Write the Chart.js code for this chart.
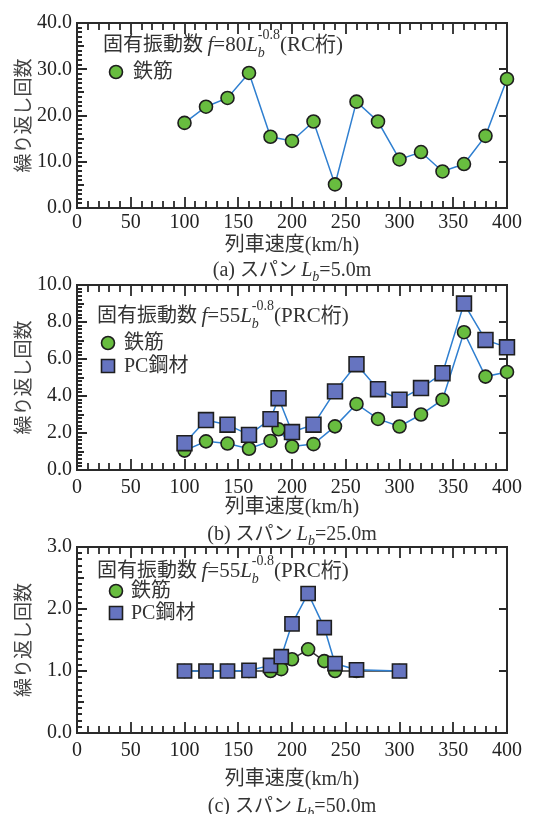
<!DOCTYPE html>
<html>
<head>
<meta charset="utf-8">
<script src="https://cdn.jsdelivr.net/npm/chart.js"></script>
<style>
  body { margin: 0; background: #fff; }
  #wrap { position: relative; width: 547px; height: 814px; }
  canvas { position: absolute; left: 0; top: 0; }
</style>
</head>
<body>
<div id="wrap">
  <canvas id="chartA" width="547" height="814"></canvas>
  <canvas id="chartB" width="547" height="814"></canvas>
  <canvas id="chartC" width="547" height="814"></canvas>
</div>
<script>
// (a) span 5.0m
const speedsA = [100, 120, 140, 160, 180, 200, 220, 240, 260, 280, 300, 320, 340, 360, 380, 400];
const rebarA = [18.4, 21.9, 23.8, 29.2, 15.4, 14.5, 18.7, 5.1, 23.0, 18.7, 10.5, 12.1, 7.9, 9.5, 15.6, 27.9];

// (b) span 25.0m
const speedsB = [100, 120, 140, 160, 180, 187.5, 200, 220, 240, 260, 280, 300, 320, 340, 360, 380, 400];
const rebarB = [1.05, 1.55, 1.43, 1.15, 1.57, 2.2, 1.27, 1.4, 2.36, 3.57, 2.76, 2.35, 3.0, 3.8, 7.45, 5.05, 5.3];
const pcB = [1.45, 2.7, 2.45, 1.9, 2.75, 3.88, 2.05, 2.45, 4.25, 5.72, 4.37, 3.8, 4.43, 5.23, 9.0, 7.03, 6.63];

// (c) span 50.0m
const speedsC = [100, 120, 140, 160, 180, 190, 200, 215, 230, 240, 260, 300];
const rebarC = [1.0, 1.0, 1.0, 1.0, 1.0, 1.03, 1.19, 1.35, 1.16, 1.0, 1.0, 1.0];
const pcC = [1.0, 1.0, 1.0, 1.01, 1.09, 1.23, 1.76, 2.25, 1.7, 1.12, 1.02, 1.0];

const xTicks = [0, 50, 100, 150, 200, 250, 300, 350, 400];
const labelRebar = "鉄筋";
const labelPC = "PC鋼材";
const xTitle = "列車速度(km/h)";
const yTitle = "繰り返し回数";

const SERIF = "'Liberation Serif', 'Noto Sans CJK JP', serif";
const CJK = "'Noto Sans CJK JP', sans-serif";
const LINE = "#2f7fd0";
const GREEN = "#68bd3f";
const BLUE = "#6674c0";
const EDGE = "#1e1e1e";

const panelOpts = {};

function toPts(xs, ys) {
  return xs.map((x, i) => ({ x: x, y: ys[i] }));
}

// draw a row of text pieces with different fonts
function drawRuns(ctx, x, y, runs, align) {
  let w = 0;
  runs.forEach(r => {
    ctx.font = r.font;
    r.w = ctx.measureText(r.t).width;
    if (!r.stay) w += r.w;
  });
  let cx = align === "center" ? x - w / 2 : x;
  runs.forEach(r => {
    ctx.font = r.font;
    ctx.fillText(r.t, cx, y + (r.dy || 0));
    if (!r.stay) cx += r.w;
  });
}

function formulaRuns(coef, kind) {
  return [
    { t: "固有振動数 ", font: "20px " + CJK },
    { t: "f", font: "italic 21px " + SERIF },
    { t: "=" + coef, font: "21px " + SERIF },
    { t: "L", font: "italic 21px " + SERIF },
    { t: "b", font: "italic 14px " + SERIF, dy: 6, stay: true },
    { t: "-0.8", font: "14px " + SERIF, dy: -12 },
    { t: "(" + kind + ")", font: "21px " + SERIF }
  ];
}

function captionRuns(tag, span) {
  return [
    { t: "(" + tag + ") ", font: "20px " + SERIF },
    { t: "スパン ", font: "19px " + CJK },
    { t: "L", font: "italic 20px " + SERIF },
    { t: "b", font: "italic 14px " + SERIF, dy: 5 },
    { t: "=" + span, font: "20px " + SERIF }
  ];
}

function drawMarker(ctx, style, x, y, size) {
  ctx.save();
  ctx.lineWidth = 1.6;
  ctx.strokeStyle = EDGE;
  ctx.beginPath();
  if (style === "circle") {
    ctx.fillStyle = GREEN;
    ctx.arc(x, y, size / 2, 0, Math.PI * 2);
  } else {
    ctx.fillStyle = BLUE;
    ctx.rect(x - size / 2, y - size / 2, size, size);
  }
  ctx.fill();
  ctx.stroke();
  ctx.restore();
}

// inward ticks on all four sides plus the frame
function drawFrame(chart) {
  const o = panelOpts[chart.canvas.id];
  const ctx = chart.ctx;
  const a = chart.chartArea;
  const x = chart.scales.x, y = chart.scales.y;
  ctx.save();
  ctx.strokeStyle = "#2a2a2a";
  ctx.lineWidth = 1.8;
  ctx.beginPath();
  for (let v = 0; v <= 400; v += 10) {
    const px = Math.round(x.getPixelForValue(v));
    const len = v % 50 === 0 ? 11 : 7;
    ctx.moveTo(px, a.bottom);
    ctx.lineTo(px, a.bottom - len);
    ctx.moveTo(px, a.top);
    ctx.lineTo(px, a.top + len);
  }
  const n = Math.round(o.yMax / o.yMinor);
  const nMaj = Math.round(o.yMajor / o.yMinor);
  const nMid = Math.round(o.yMid / o.yMinor);
  for (let i = 0; i <= n; i++) {
    const py = Math.round(y.getPixelForValue(i * o.yMinor));
    const len = i % nMaj === 0 ? 10 : (i % nMid === 0 ? 7 : 5);
    ctx.moveTo(a.left, py);
    ctx.lineTo(a.left + len, py);
    if (i % nMaj === 0) {
      ctx.moveTo(a.right, py);
      ctx.lineTo(a.right - 8, py);
    }
  }
  ctx.stroke();
  ctx.lineWidth = 2;
  ctx.strokeRect(a.left, a.top, a.right - a.left, a.bottom - a.top);
  ctx.restore();
}

const decoPlugin = {
  id: "deco",
  beforeDatasetsDraw(chart) {
    drawFrame(chart);
  },
  afterDraw(chart) {
    const o = panelOpts[chart.canvas.id];
    const { ctx, chartArea: a } = chart;
    ctx.save();
    ctx.fillStyle = "#333";
    ctx.textBaseline = "alphabetic";
    drawRuns(ctx, o.noteX, o.noteY, formulaRuns(o.coef, o.kind), "left");
    o.legend.forEach(item => {
      drawMarker(ctx, item.style, item.mx, item.my, item.size);
      ctx.fillStyle = "#333";
      ctx.textBaseline = "middle";
      ctx.font = "20px " + SERIF;
      ctx.fillText(item.text, item.tx, item.my + 1);
    });
    ctx.textBaseline = "alphabetic";
    drawRuns(ctx, (a.left + a.right) / 2, o.capY, captionRuns(o.tag, o.span), "center");
    ctx.restore();
  }
};

function makeChart(id, p) {
  panelOpts[id] = p;
  const datasets = p.series.map(s => ({
    label: s.label,
    data: s.data,
    showLine: true,
    borderColor: s.line,
    borderWidth: 1.5,
    pointStyle: s.style,
    pointRadius: s.radius,
    pointBackgroundColor: s.fill,
    pointBorderColor: EDGE,
    pointBorderWidth: 1.6,
    order: s.order,
    clip: false
  }));
  return new Chart(document.getElementById(id), {
    type: "scatter",
    data: { datasets: datasets },
    plugins: [decoPlugin],
    options: {
      responsive: false,
      animation: false,
      devicePixelRatio: 1,
      events: [],
      layout: {
        padding: { left: 0, right: 40, top: p.top, bottom: 814 - p.axisBottom }
      },
      scales: {
        x: {
          type: "linear",
          min: 0,
          max: 400,
          afterBuildTicks: s => { s.ticks = xTicks.map(v => ({ value: v })); },
          afterFit: s => { s.height = p.axisBottom - p.bottom; },
          grid: { display: false, drawTicks: false },
          border: { display: false },
          ticks: { padding: p.tickPad, color: "#222", font: { family: SERIF, size: 20 }, maxRotation: 0 },
          title: { display: true, text: xTitle, color: "#333", padding: { top: 0, bottom: 0 }, font: { family: SERIF, size: 20 } }
        },
        y: {
          type: "linear",
          min: 0,
          max: p.yMax,
          afterFit: s => { s.width = 77; },
          grid: { display: false, drawTicks: false },
          border: { display: false },
          ticks: { stepSize: p.yMajor, padding: 5, color: "#222", font: { family: SERIF, size: 20 }, callback: v => v.toFixed(1) },
          title: { display: true, text: yTitle, color: "#444", padding: { top: 11, bottom: 0 }, font: { family: CJK, size: 19 } }
        }
      },
      plugins: {
        legend: { display: false },
        tooltip: { enabled: false }
      }
    }
  });
}

makeChart("chartA", {
  top: 23, bottom: 208, axisBottom: 258, tickPad: 3,
  yMax: 40, yMajor: 10, yMid: 5, yMinor: 1,
  coef: "80", kind: "RC桁", noteX: 103, noteY: 51,
  tag: "a", span: "5.0m", capY: 276,
  legend: [{ style: "circle", mx: 116, my: 72, size: 13, text: labelRebar, tx: 133 }],
  series: [
    { label: labelRebar, data: toPts(speedsA, rebarA), line: LINE, style: "circle", radius: 6.5, fill: GREEN, order: 1 }
  ]
});

makeChart("chartB", {
  top: 285, bottom: 470, axisBottom: 520, tickPad: 6,
  yMax: 10, yMajor: 2, yMid: 1, yMinor: 0.2,
  coef: "55", kind: "PRC桁", noteX: 97, noteY: 322,
  tag: "b", span: "25.0m", capY: 540,
  legend: [
    { style: "circle", mx: 108, my: 343, size: 13, text: labelRebar, tx: 124 },
    { style: "rect", mx: 108, my: 366, size: 13, text: labelPC, tx: 124 }
  ],
  series: [
    { label: labelRebar, data: toPts(speedsB, rebarB), line: LINE, style: "circle", radius: 6.5, fill: GREEN, order: 1 },
    { label: labelPC, data: toPts(speedsB, pcB), line: LINE, style: "rect", radius: 10.5, fill: BLUE, order: 0 }
  ]
});

makeChart("chartC", {
  top: 547, bottom: 733, axisBottom: 792, tickPad: 6,
  yMax: 3, yMajor: 1, yMid: 0.5, yMinor: 0.1,
  coef: "55", kind: "PRC桁", noteX: 97, noteY: 577,
  tag: "c", span: "50.0m", capY: 812,
  legend: [
    { style: "circle", mx: 116, my: 591, size: 13, text: labelRebar, tx: 131 },
    { style: "rect", mx: 116, my: 613, size: 13, text: labelPC, tx: 131 }
  ],
  series: [
    { label: labelRebar, data: toPts(speedsC, rebarC), line: "#333", style: "circle", radius: 6.5, fill: GREEN, order: 1 },
    { label: labelPC, data: toPts(speedsC, pcC), line: LINE, style: "rect", radius: 10, fill: BLUE, order: 0 }
  ]
});
</script>
</body>
</html>
